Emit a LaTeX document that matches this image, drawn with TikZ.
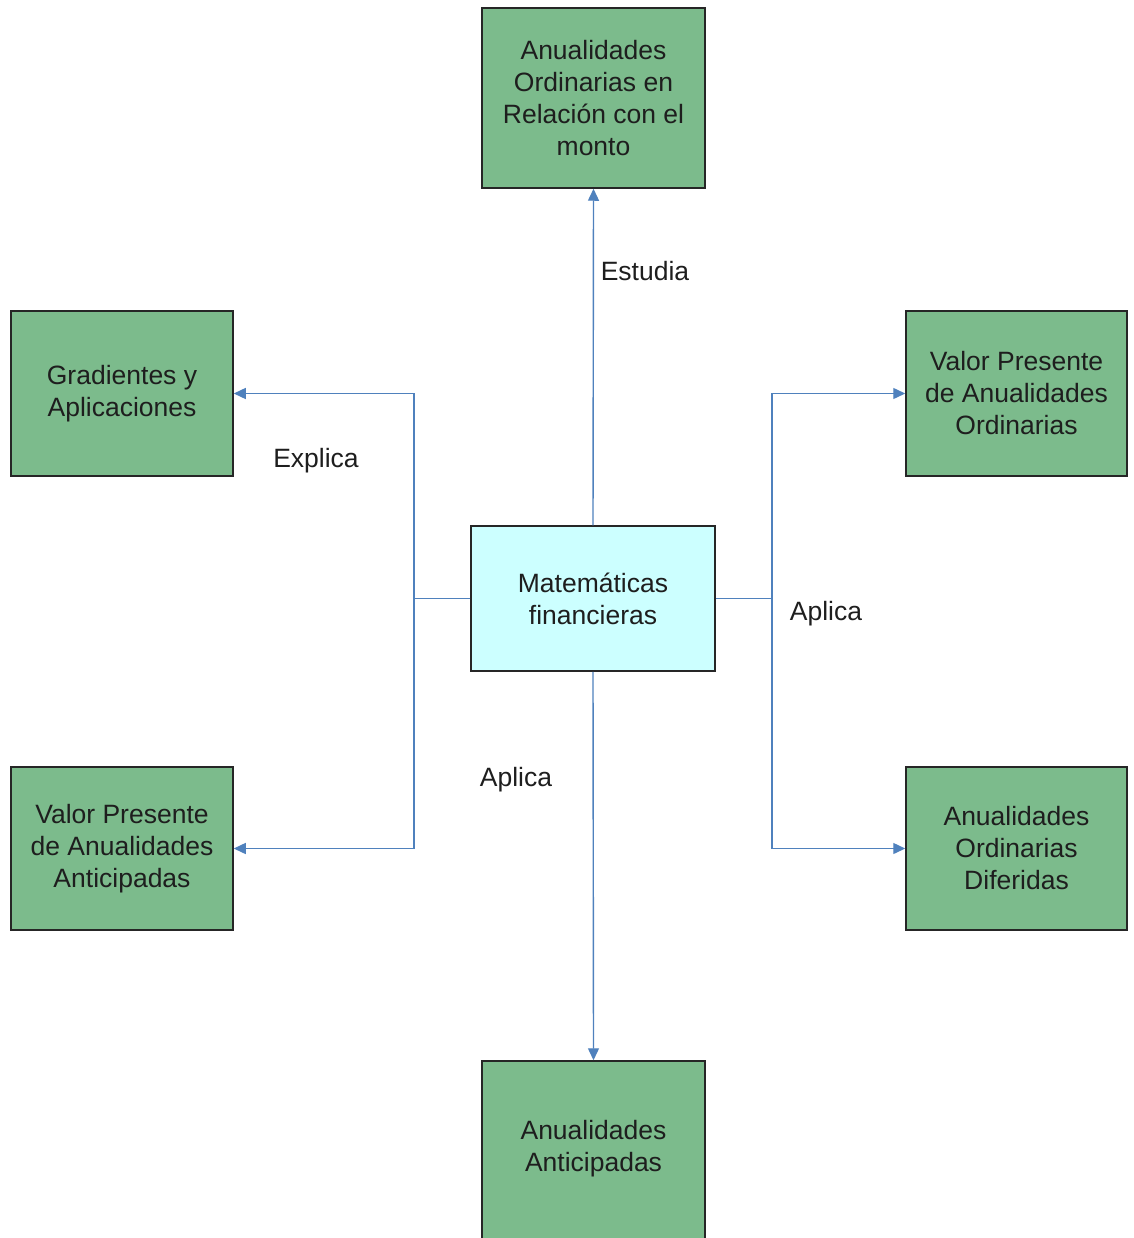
\documentclass[tikz,border=0pt]{standalone}
\usepackage{fontspec}
\setmainfont{Liberation Sans}
\usetikzlibrary{arrows.meta}
\definecolor{boxgreen}{RGB}{124,187,140}
\definecolor{boxcyan}{RGB}{204,255,255}
\definecolor{linkblue}{RGB}{79,129,189}
\definecolor{txt}{RGB}{30,30,30}
\begin{document}
\begin{tikzpicture}[x=1pt,y=-1pt,
  gbox/.style={draw=black!85,line width=1.5pt,fill=boxgreen,align=center,
    font=\fontsize{26.5}{32}\selectfont,text=txt,inner sep=0pt},
  cbox/.style={gbox,fill=boxcyan},
  link/.style={draw=linkblue,line width=1.4pt},
  arr/.style={link,-{Triangle[length=12pt,width=11pt]}},
  lbl/.style={font=\fontsize{26.5}{32}\selectfont,text=txt}]
\useasboundingbox (0,0) rectangle (1133,1238);
\clip (0,0) rectangle (1133,1238);
\node[cbox,minimum width=244pt,minimum height=145pt] (c) at (593,598.5) {Matemáticas\\financieras};
\node[gbox,minimum width=223pt,minimum height=180pt] (top) at (593.5,98) {Anualidades\\Ordinarias en\\Relación con el\\monto};
\node[gbox,minimum width=222pt,minimum height=165pt] (gr) at (122,393.5) {Gradientes y\\Aplicaciones};
\node[gbox,minimum width=222pt,minimum height=163pt] (vpa) at (122,848.5) {Valor Presente\\de Anualidades\\Anticipadas};
\node[gbox,minimum width=221pt,minimum height=165pt] (vpo) at (1016.5,393.5) {Valor Presente\\de Anualidades\\Ordinarias};
\node[gbox,minimum width=221pt,minimum height=163pt] (aod) at (1016.5,848.5) {Anualidades\\Ordinarias\\Diferidas};
\node[gbox,minimum width=223pt,minimum height=210pt] (bot) at (593.5,1166) {};
\node[font=\fontsize{26.5}{32}\selectfont,text=txt,align=center] (bott) at (593.5,1149) {Anualidades\\Anticipadas};
\coordinate (lj) at (414,598.5);
\coordinate (rj) at (772,598.5);
\draw[arr] (c.north) -- (top.south);
\draw[arr] (c.south) -- (bot.north);
\draw[link] (c.west) -- (lj);
\draw[arr] (lj) |- (gr.east);
\draw[arr] (lj) |- (vpa.east);
\draw[link] (c.east) -- (rj);
\draw[arr] (rj) |- (vpo.west);
\draw[arr] (rj) |- (aod.west);
\node[lbl] (l1) at (645,271) {Estudia};
\node[lbl] (l2) at (316,461) {Explica};
\node[lbl] (l3) at (826,614) {Aplica};
\node[lbl] (l4) at (516,780) {Aplica};
\end{tikzpicture}
\end{document}
